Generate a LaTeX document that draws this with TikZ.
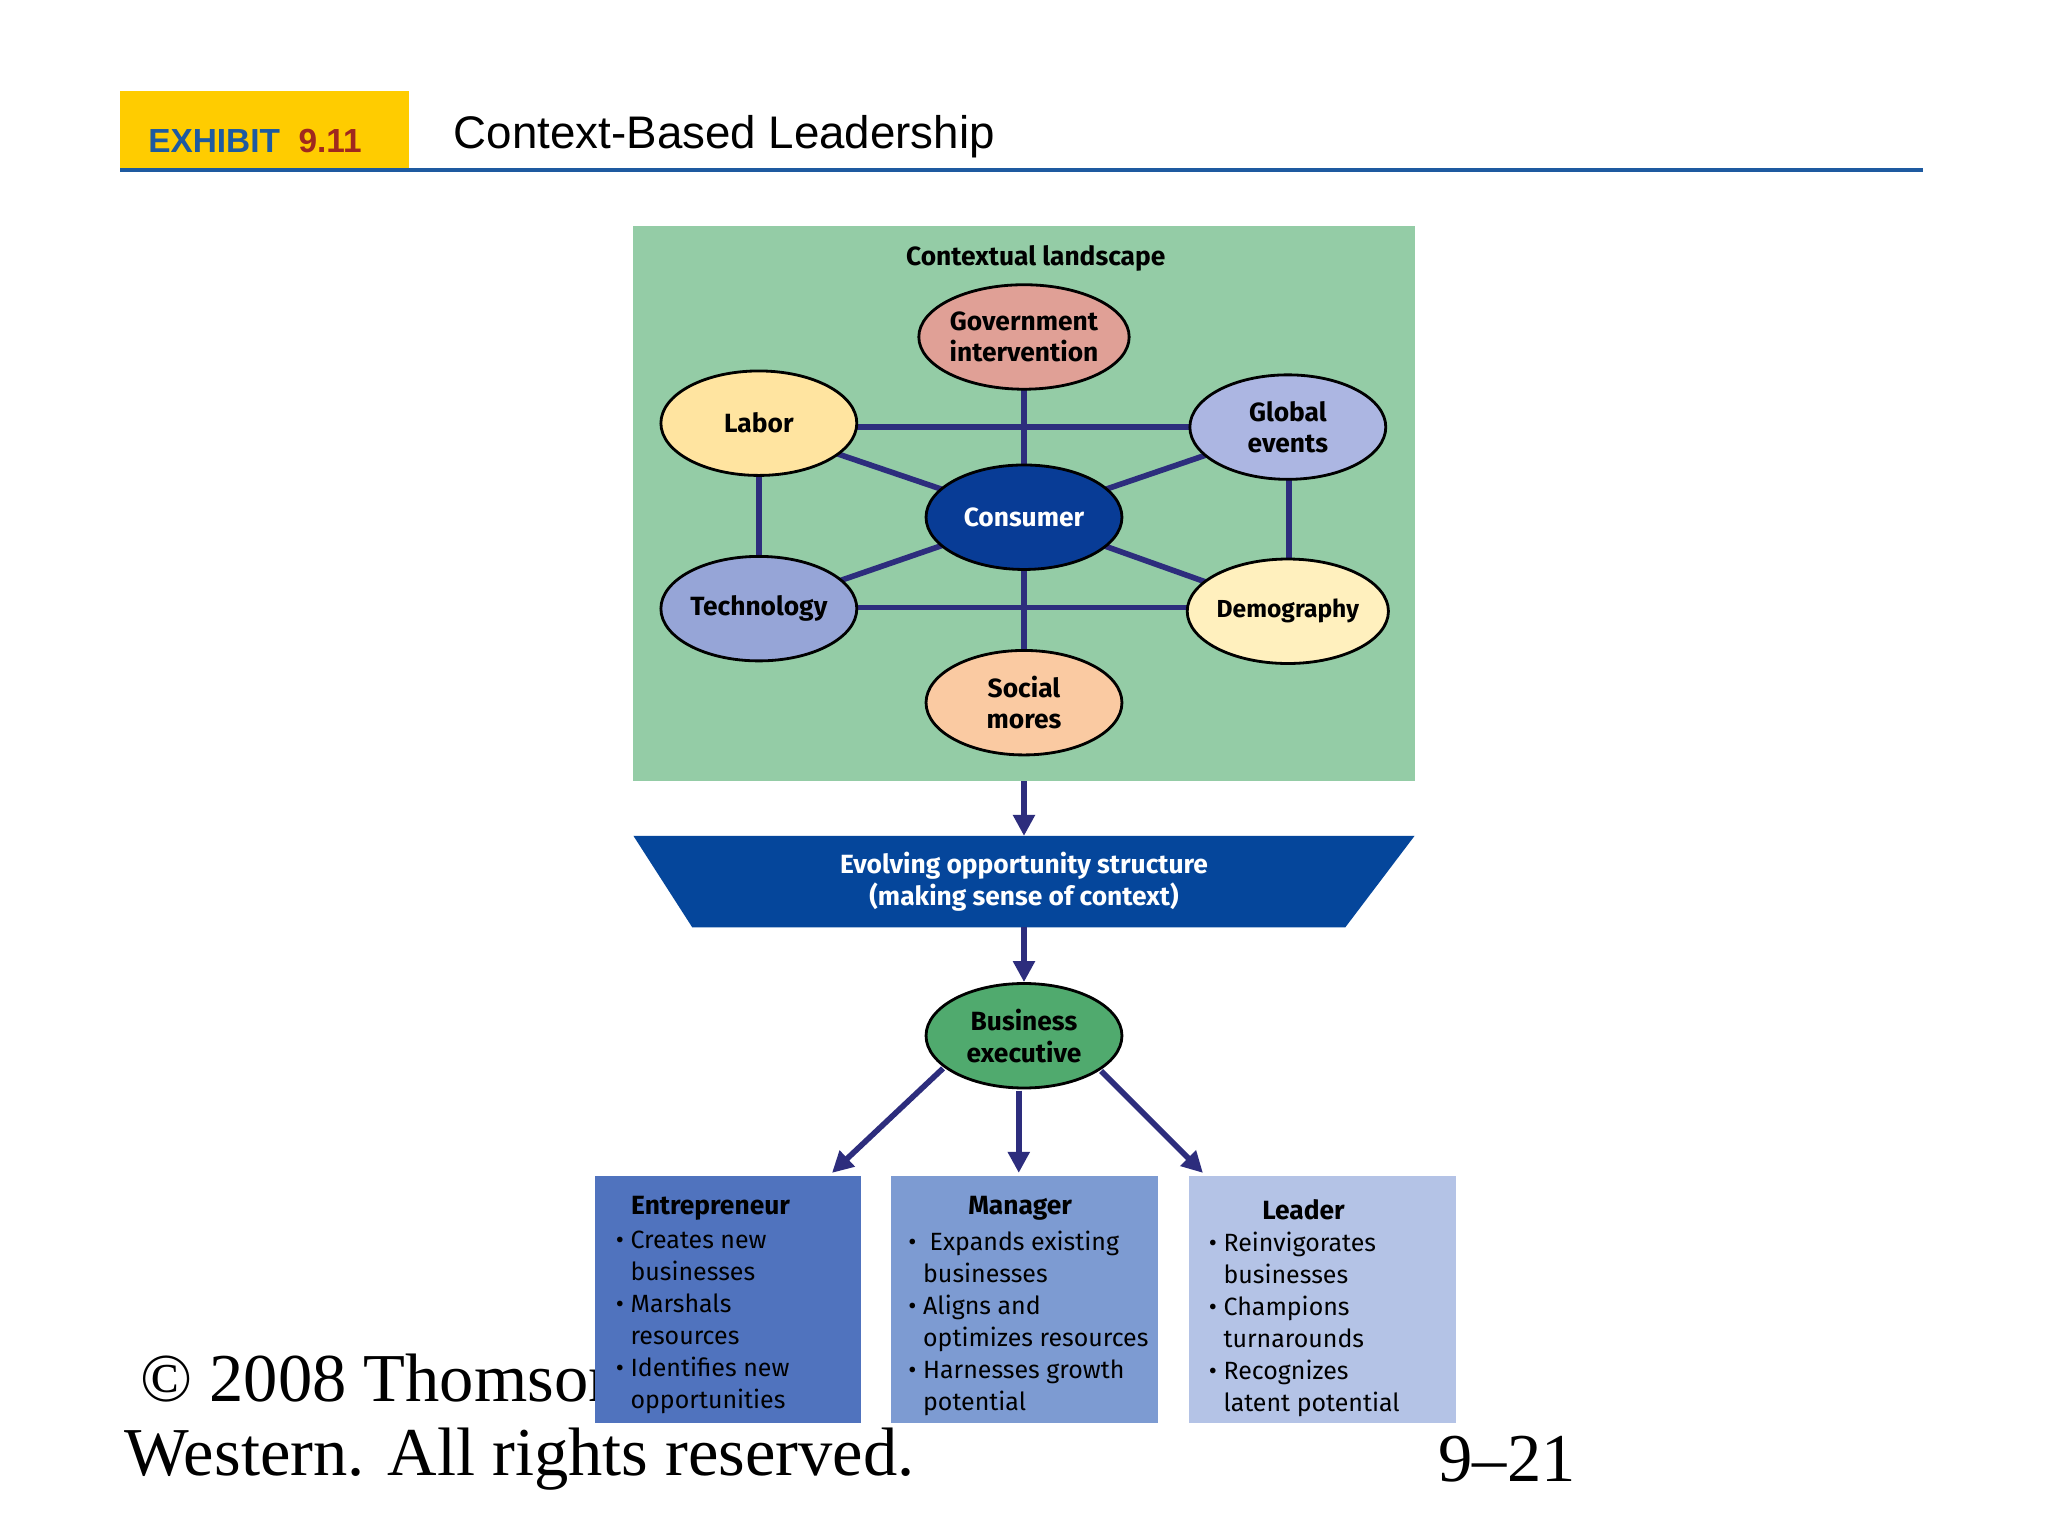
\documentclass[tikz,border=0pt]{standalone}
\usepackage{fontspec}
\setmainfont{Liberation Serif}
\newfontfamily\arial{Liberation Sans}
\newfontfamily\nf{Fira Sans}
\usetikzlibrary{shapes.geometric,arrows.meta}
\definecolor{lgreen}{RGB}{148,204,166}
\definecolor{navy}{RGB}{45,45,125}
\definecolor{cgov}{RGB}{224,160,150}
\definecolor{clab}{RGB}{255,228,160}
\definecolor{cglo}{RGB}{172,182,226}
\definecolor{ccon}{RGB}{8,60,150}
\definecolor{ctec}{RGB}{150,165,215}
\definecolor{cdem}{RGB}{255,240,190}
\definecolor{csoc}{RGB}{250,202,162}
\definecolor{ctrap}{RGB}{5,70,155}
\definecolor{cbus}{RGB}{80,170,110}
\definecolor{cent}{RGB}{80,115,190}
\definecolor{cman}{RGB}{125,155,210}
\definecolor{clea}{RGB}{180,195,230}
\definecolor{exb}{RGB}{30,90,160}
\definecolor{exr}{RGB}{160,40,30}
\definecolor{yel}{RGB}{255,204,0}
\begin{document}
\begin{tikzpicture}[x=0.01306cm,y=-0.01306cm,
  ell/.style={ellipse,draw=black,line width=0.8pt,minimum width=150*0.01306cm,minimum height=80*0.01306cm,inner sep=0pt,font=\nf\bfseries\fontsize{7.5}{9}\selectfont,align=center},
  con/.style={navy,line width=1.6pt},
  arr/.style={navy,line width=1.6pt,-{Triangle[length=6pt,width=6pt]}},
  box/.style={anchor=north west,minimum width=204*0.01306cm,minimum height=189*0.01306cm,inner sep=0pt},
  btxt/.style={anchor=north west,font=\nf\fontsize{7.1}{9.1}\selectfont,align=left,inner sep=0pt}]
\useasboundingbox (0,0) rectangle (1568,1176);
\fill[white] (0,0) rectangle (1568,1176);
% header
\fill[yel] (92,70) rectangle (313,130);
\node[anchor=west,font=\arial\bfseries\fontsize{9.5}{11}\selectfont] (ex) at (104,108) {\textcolor{exb}{EXHIBIT}\ \ \textcolor{exr}{9.11}};
\node[anchor=west,font=\arial\fontsize{13}{15}\selectfont] (ti) at (338,105) {Context-Based Leadership};
\draw[exb,line width=1pt] (92,130) -- (1472,130);
% footer text
\node[anchor=west,font=\fontsize{19.5}{24}\selectfont] (c1) at (98,1055) {\textcopyright\ 2008 Thomson/South-};
\node[anchor=west,font=\fontsize{19.5}{24}\selectfont] (c2) at (86,1117) {Western. All rights reserved.};
\node[anchor=west,font=\fontsize{19.5}{24}\selectfont] (pg) at (1092,1117) {9--21};
% green panel
\fill[lgreen] (485,173) rectangle (1083,598);
\node[font=\nf\bfseries\fontsize{7.5}{9}\selectfont] (ctx) at (793,198) {Contextual landscape};
\coordinate (gb) at (784,598);
% connectors first
\draw[con] (581,327) -- (986,327);
\draw[con] (581,465) -- (986,465);
\draw[con] (581,327) -- (581,465);
\draw[con] (987,327) -- (987,465);
\draw[con] (784,258) -- (784,538);
\draw[con] (581,327) -- (784,396) -- (986,327);
\draw[con] (581,466) -- (784,396) -- (986,468);
\node[ell,fill=cgov] (gov) at (784,258) {Government\\intervention};
\node[ell,fill=clab] (lab) at (581,324) {Labor};
\node[ell,fill=cglo] (glo) at (986,327) {Global\\events};
\node[ell,fill=ccon,text=white] (con) at (784,396) {Consumer};
\node[ell,fill=ctec] (tec) at (581,466) {Technology};
\node[ell,fill=cdem,font=\nf\bfseries\fontsize{7}{9}\selectfont] (dem) at (986,468) {Demography};
\node[ell,fill=csoc] (soc) at (784,538) {Social\\mores};
% trapezoid
\fill[ctrap] (485,640) -- (1083,640) -- (1030,710) -- (530,710) -- cycle;
\node[text=white,font=\nf\bfseries\fontsize{7.5}{9.3}\selectfont,align=center] (evo) at (784,675) {Evolving opportunity structure\\(making sense of context)};
\coordinate (tt) at (784,640);
\coordinate (tb) at (784,710);
\draw[arr] (gb) -- (tt);
\node[ell,fill=cbus] (bus) at (784,793) {Business\\executive};
\draw[arr] (tb) -- (bus.north);
% boxes
\node[box,fill=cent] (ent) at (455,900) {};
\node[box,fill=cman] (man) at (682,900) {};
\node[box,fill=clea] (lea) at (910,900) {};
\coordinate (s1) at (722,818); \coordinate (e1) at (637,898);
\coordinate (s2) at (780,835); \coordinate (e2) at (780,898);
\coordinate (s3) at (843,820); \coordinate (e3) at (921,898);
\draw[arr] (s1) -- (e1);
\draw[arr] (s2) -- (e2);
\draw[arr] (s3) -- (e3);
\node[font=\nf\bfseries\fontsize{7.5}{9}\selectfont] (t1) at (544,925) {Entrepreneur};
\node[font=\nf\bfseries\fontsize{7.5}{9}\selectfont] (t2) at (781,925) {Manager};
\node[font=\nf\bfseries\fontsize{7.5}{9}\selectfont] (t3) at (998,926) {Leader};
\node[btxt] (b1) at (471,942) {\textbullet\ Creates new\\\phantom{\textbullet\ }businesses\\\textbullet\ Marshals\\\phantom{\textbullet\ }resources\\\textbullet\ Identifies new\\\phantom{\textbullet\ }opportunities};
\node[btxt] (b2) at (695,942) {\textbullet\ \ Expands existing\\\phantom{\textbullet\ }businesses\\\textbullet\ Aligns and\\\phantom{\textbullet\ }optimizes resources\\\textbullet\ Harnesses growth\\\phantom{\textbullet\ }potential};
\node[btxt] (b3) at (925,943) {\textbullet\ Reinvigorates\\\phantom{\textbullet\ }businesses\\\textbullet\ Champions\\\phantom{\textbullet\ }turnarounds\\\textbullet\ Recognizes\\\phantom{\textbullet\ }latent potential};
\end{tikzpicture}
\end{document}
